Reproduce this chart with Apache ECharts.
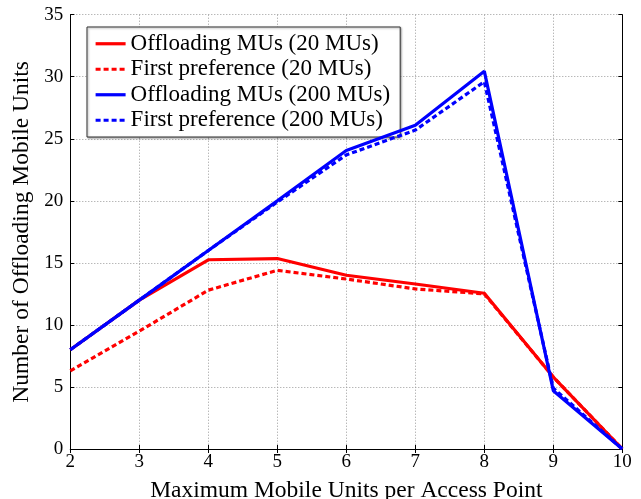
<!DOCTYPE html>
<html>
<head>
<meta charset="utf-8">
<script src="https://cdn.jsdelivr.net/npm/echarts@6/dist/echarts.min.js"></script>
<style>
  html, body { margin: 0; padding: 0; background: #fff; }
  #chart { width: 641px; height: 499px; }
</style>
</head>
<body>
<div id="chart"></div>
<script>
// Maximum mobile units per access point
const maxPerAP = [2, 3, 4, 5, 6, 7, 8, 9, 10];

// Number of offloading mobile units
const offload20 = [8, 12, 15.25, 15.35, 14.0, 13.3, 12.55, 5.8, 0];
const firstPref20 = [6.3, 9.5, 12.8, 14.4, 13.7, 12.9, 12.5, 5.8, 0];
const offload200 = [8, 12, 16, 20, 24.05, 26.1, 30.45, 4.7, 0];
const firstPref200 = [8, 12, 16, 19.9, 23.7, 25.7, 29.6, 4.9, 0];

const yTicks = [0, 5, 10, 15, 20, 25, 30, 35];

const serif = '"Liberation Serif", "DejaVu Serif", serif';
const RED = '#ff0000';
const BLUE = '#0000ff';

function pairs(ys) {
  return maxPerAP.map((x, i) => [x, ys[i]]);
}

function lineSeries(name, ys, color, dashed, z) {
  return {
    name: name,
    type: 'line',
    data: pairs(ys),
    symbol: 'none',
    showSymbol: false,
    z: z,
    lineStyle: { color: color, width: 3.2, type: dashed ? [5, 3] : 'solid' },
    itemStyle: { color: color },
    animation: false
  };
}

const chart = echarts.init(document.getElementById('chart'), null, { renderer: 'canvas' });

const gridLine = { show: true, lineStyle: { color: '#9a9a9a', width: 1, type: [1, 2] } };
const frameTick = { show: true, inside: true, length: 4, lineStyle: { color: '#000' } };

chart.setOption({
  animation: false,
  backgroundColor: '#fff',
  grid: {
    left: 70.3, right: 18.7, top: 14.7, bottom: 50,
    containLabel: false, outerBoundsMode: 'none'
  },
  legend: {
    orient: 'vertical',
    left: 87,
    top: 27,
    padding: [4, 10, 4, 7],
    itemWidth: 30,
    itemHeight: 14,
    itemGap: 0,
    backgroundColor: '#fff',
    borderColor: '#333',
    borderWidth: 1,
    shadowColor: 'rgba(0,0,0,0.35)',
    shadowBlur: 2,
    shadowOffsetX: 1,
    shadowOffsetY: 1,
    itemStyle: { color: 'transparent', opacity: 0, borderWidth: 0 },
    lineStyle: { width: 3.2 },
    textStyle: { fontFamily: serif, fontSize: 23, color: '#000', lineHeight: 25.5 },
    data: ['Offloading MUs (20 MUs)', 'First preference (20 MUs)',
           'Offloading MUs (200 MUs)', 'First preference (200 MUs)']
  },
  xAxis: [{
    type: 'value',
    min: 2, max: 10, interval: 1,
    name: 'Maximum Mobile Units per Access Point',
    nameLocation: 'middle',
    nameGap: 30,
    nameTextStyle: { fontFamily: serif, fontSize: 23.5, color: '#000' },
    axisLine: { show: true, lineStyle: { color: '#000', width: 1 } },
    axisTick: frameTick,
    axisLabel: { fontFamily: serif, fontSize: 19, color: '#000', margin: 4 },
    splitLine: gridLine
  }, {
    type: 'value', position: 'top',
    min: 2, max: 10, interval: 1,
    axisLine: { show: true, lineStyle: { color: '#000', width: 1 } },
    axisTick: frameTick,
    axisLabel: { show: false },
    splitLine: { show: false }
  }],
  yAxis: [{
    type: 'value',
    min: 0, max: 35, interval: 5,
    name: 'Number of Offloading Mobile Units',
    nameLocation: 'middle',
    nameGap: 36,
    nameTextStyle: { fontFamily: serif, fontSize: 23.5, color: '#000' },
    axisLine: { show: true, lineStyle: { color: '#000', width: 1 } },
    axisTick: frameTick,
    axisLabel: {
      fontFamily: serif, fontSize: 19, color: '#000', margin: 7,
      formatter: v => (yTicks.indexOf(v) >= 0 ? String(v) : '')
    },
    splitLine: gridLine
  }, {
    type: 'value', position: 'right',
    min: 0, max: 35, interval: 5,
    axisLine: { show: true, lineStyle: { color: '#000', width: 1 } },
    axisTick: frameTick,
    axisLabel: { show: false },
    splitLine: { show: false }
  }],
  series: [
    lineSeries('Offloading MUs (20 MUs)', offload20, RED, false, 3),
    lineSeries('First preference (20 MUs)', firstPref20, RED, true, 2),
    lineSeries('Offloading MUs (200 MUs)', offload200, BLUE, false, 5),
    lineSeries('First preference (200 MUs)', firstPref200, BLUE, true, 4)
  ]
});
</script>
</body>
</html>
